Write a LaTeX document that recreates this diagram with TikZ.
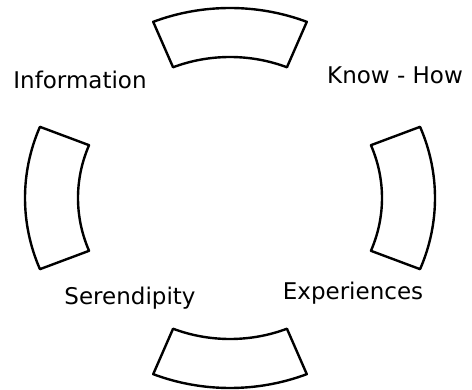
\documentclass[tikz,border=0pt]{standalone}
\usepackage{fontspec}
\setmainfont{DejaVu Sans}
\usetikzlibrary{calc}
\begin{document}
\begin{tikzpicture}[x=1pt, y=-1pt, line width=2.4pt, line join=round,
  sector/.style={draw=black, fill=white},
  lbl/.style={font=\fontsize{23}{28}\selectfont, anchor=base, inner sep=0pt}]
\useasboundingbox (0,0) rectangle (472,390);
\coordinate (c) at (230,198);
\foreach \a in {0,90,180,270}
  \draw[sector] ($(c)+(\a-22:205 and 190)$) arc[start angle=\a-22, end angle=\a+22, x radius=205, y radius=190]
    -- ($(c)+(\a+22:152 and 141)$) arc[start angle=\a+22, end angle=\a-22, x radius=152, y radius=141] -- cycle;
\node[lbl] (info) at (80,89) {Information};
\node[lbl] (know) at (395,84) {Know - How};
\node[lbl] (seren) at (130,305) {Serendipity};
\node[lbl] (exp) at (353,300) {Experiences};
\end{tikzpicture}
\end{document}
